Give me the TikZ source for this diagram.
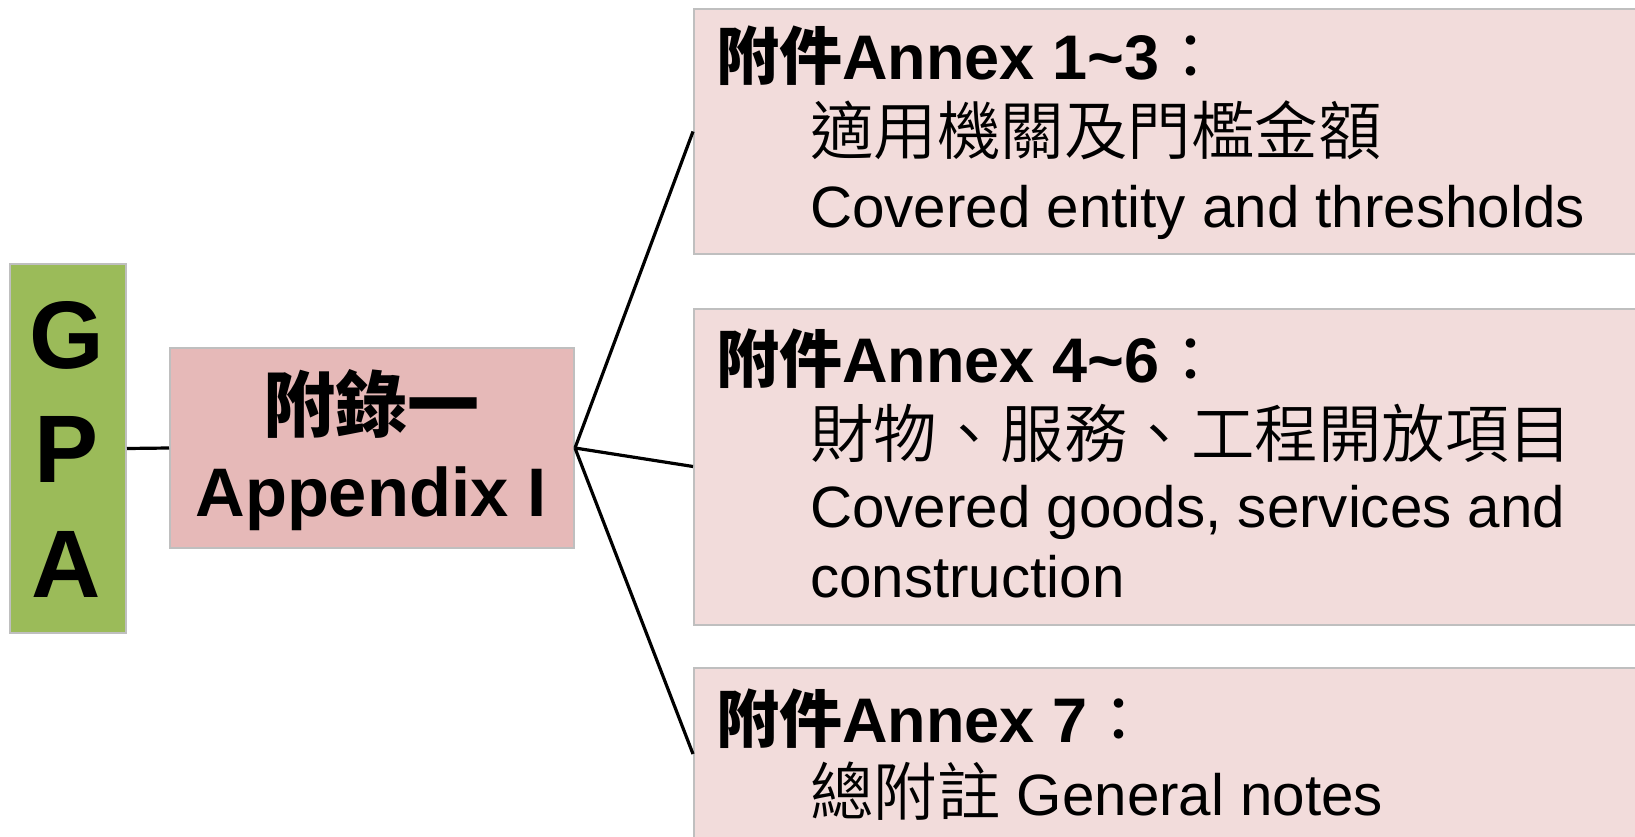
\documentclass[tikz,border=0pt]{standalone}
\usepackage{fontspec}
\setmainfont{Liberation Sans}
\newfontfamily\cjk{Noto Sans CJK TC}
\newfontfamily\cjklight{Noto Sans CJK TC}[UprightFont={* DemiLight}]
\definecolor{gpagreen}{HTML}{9BBB59}
\definecolor{appfill}{HTML}{E6B9B8}
\definecolor{annexfill}{HTML}{F2DCDB}
\definecolor{edgegray}{HTML}{BFBFBF}
\newcommand\hdsize{\fontsize{63}{63}\selectfont}
\newcommand\cjksize{\fontsize{63.5}{64}\selectfont}
\newcommand\latsize{\fontsize{58.3}{60}\selectfont}
\begin{document}
\begin{tikzpicture}[x=1pt,y=-1pt,
  box/.style={draw=edgegray, line width=2pt, rectangle, inner sep=0pt, anchor=north west},
  conn/.style={line width=3.2pt, black},
  txt/.style={inner sep=0pt, anchor=base west, text=black},
  ctxt/.style={inner sep=0pt, anchor=base, text=black}]
\useasboundingbox (0,0) rectangle (1635,837);
\clip (0,0) rectangle (1635,837);
% boxes
\node[box, fill=gpagreen, minimum width=116pt, minimum height=369pt] (gpa) at (9,263) {};
\node[box, fill=appfill, minimum width=404pt, minimum height=200pt] (app) at (169,347) {};
\node[box, fill=annexfill, minimum width=1000pt, minimum height=245pt] (b1) at (693,8) {};
\node[box, fill=annexfill, minimum width=1000pt, minimum height=316pt] (b2) at (693,307.5) {};
\node[box, fill=annexfill, minimum width=1000pt, minimum height=172pt] (b3) at (693,667) {};
% connectors
\draw[conn] (gpa.east) -- (app.west);
\draw[conn] (app.east) -- (b1.west);
\draw[conn] (app.east) -- (b2.west);
\draw[conn] (app.east) -- (b3.west);
% GPA letters
\node[ctxt] (g1) at (66.5,368) {\fontsize{96}{96}\selectfont\bfseries G};
\node[ctxt] (g2) at (66.5,482) {\fontsize{96}{96}\selectfont\bfseries P};
\node[ctxt] (g3) at (66.5,597) {\fontsize{96}{96}\selectfont\bfseries A};
% appendix
\node[ctxt] (a1) at (371,431) {\fontsize{72}{72}\selectfont\cjk\bfseries 附錄一};
\node[ctxt] (a2) at (371,516.5) {\fontsize{68.7}{69}\selectfont\bfseries Appendix I};
% annex 1-3
\node[txt] (h1) at (716,80) {\hdsize{\cjk\bfseries 附件}\bfseries Annex 1\textasciitilde 3{\cjk\mdseries ：}};
\node[txt] (c1) at (810,155) {\cjksize\cjklight 適用機關及門檻金額};
\node[txt] (e1) at (810,227) {\latsize Covered entity and thresholds};
% annex 4-6
\node[txt] (h2) at (716,382) {\hdsize{\cjk\bfseries 附件}\bfseries Annex 4\textasciitilde 6{\cjk\mdseries ：}};
\node[txt] (c2) at (810,457) {\cjksize\cjklight 財物、服務、工程開放項目};
\node[txt] (e2) at (810,527) {\latsize Covered goods, services and};
\node[txt] (e3) at (810,597) {\latsize construction};
% annex 7
\node[txt] (h3) at (716,742) {\hdsize{\cjk\bfseries 附件}\bfseries Annex 7{\cjk\mdseries ：}};
\node[txt] (c3) at (810,815) {\latsize{\cjksize\cjklight 總附註}\ General notes};
\end{tikzpicture}
\end{document}
